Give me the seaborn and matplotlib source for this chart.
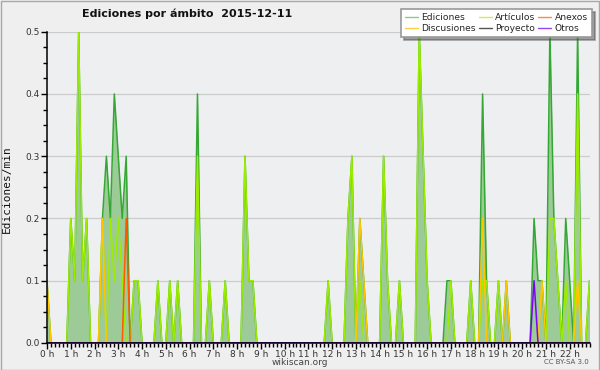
import numpy as np
import pandas as pd
import seaborn as sns
import matplotlib.pyplot as plt
from matplotlib.lines import Line2D
from matplotlib.patches import Rectangle
from matplotlib.ticker import MultipleLocator, FormatStrFormatter

# 10-minute bins from 00:00 to 22:50, values in edits per minute
bin_minutes = list(range(0, 1380, 10))

ediciones = [
    0.1, 0, 0, 0, 0, 0, 0.2, 0.1, 0.5, 0.1, 0.2, 0,
    0, 0, 0.2, 0.3, 0.2, 0.4, 0.3, 0.2, 0.3, 0, 0.1, 0.1,
    0, 0, 0, 0, 0.1, 0, 0, 0.1, 0, 0.1, 0, 0,
    0, 0, 0.4, 0, 0, 0.1, 0, 0, 0, 0.1, 0, 0,
    0, 0, 0.3, 0.1, 0.1, 0, 0, 0, 0, 0, 0, 0,
    0, 0, 0, 0, 0, 0, 0, 0, 0, 0, 0, 0.1,
    0, 0, 0, 0, 0.2, 0.3, 0, 0.2, 0.1, 0, 0, 0,
    0, 0.3, 0.1, 0, 0, 0.1, 0, 0, 0, 0, 0.5, 0.3,
    0.1, 0, 0, 0, 0, 0.1, 0.1, 0, 0, 0, 0, 0.1,
    0, 0, 0.4, 0.1, 0, 0, 0.1, 0, 0.1, 0, 0, 0,
    0, 0, 0, 0.2, 0.1, 0.1, 0, 0.5, 0.2, 0.1, 0, 0.2,
    0.1, 0, 0.5, 0, 0, 0.1,
]
articulos = [
    0, 0, 0, 0, 0, 0, 0.2, 0.1, 0.5, 0.1, 0.2, 0,
    0, 0, 0.2, 0, 0.2, 0.1, 0.2, 0.1, 0, 0, 0.1, 0.1,
    0, 0, 0, 0, 0.1, 0, 0, 0.1, 0, 0.1, 0, 0,
    0, 0, 0.3, 0, 0, 0.1, 0, 0, 0, 0.1, 0, 0,
    0, 0, 0.3, 0.1, 0.1, 0, 0, 0, 0, 0, 0, 0,
    0, 0, 0, 0, 0, 0, 0, 0, 0, 0, 0, 0.1,
    0, 0, 0, 0, 0.2, 0.3, 0, 0.1, 0, 0, 0, 0,
    0, 0.3, 0.1, 0, 0, 0.1, 0, 0, 0, 0, 0.5, 0.3,
    0.1, 0, 0, 0, 0, 0, 0.1, 0, 0, 0, 0, 0.1,
    0, 0, 0.1, 0.1, 0, 0, 0.1, 0, 0, 0, 0, 0,
    0, 0, 0, 0, 0, 0, 0, 0.2, 0.2, 0.1, 0, 0.1,
    0, 0, 0.4, 0, 0, 0.1,
]
discusiones = [
    0.1, 0, 0, 0, 0, 0, 0, 0, 0, 0, 0, 0,
    0, 0, 0.2, 0, 0, 0, 0, 0, 0, 0, 0, 0,
    0, 0, 0, 0, 0, 0, 0, 0, 0, 0, 0, 0,
    0, 0, 0, 0, 0, 0, 0, 0, 0, 0, 0, 0,
    0, 0, 0, 0, 0, 0, 0, 0, 0, 0, 0, 0,
    0, 0, 0, 0, 0, 0, 0, 0, 0, 0, 0, 0,
    0, 0, 0, 0, 0, 0, 0, 0.2, 0.1, 0, 0, 0,
    0, 0, 0, 0, 0, 0, 0, 0, 0, 0, 0, 0,
    0, 0, 0, 0, 0, 0, 0, 0, 0, 0, 0, 0,
    0, 0, 0.2, 0, 0, 0, 0, 0, 0.1, 0, 0, 0,
    0, 0, 0, 0, 0, 0.1, 0, 0, 0, 0, 0, 0,
    0, 0, 0.1, 0, 0, 0,
]
anexos = [
    0, 0, 0, 0, 0, 0, 0, 0, 0, 0, 0, 0,
    0, 0, 0, 0, 0, 0, 0, 0, 0.2, 0, 0, 0,
    0, 0, 0, 0, 0, 0, 0, 0, 0, 0, 0, 0,
    0, 0, 0, 0, 0, 0, 0, 0, 0, 0, 0, 0,
    0, 0, 0, 0, 0, 0, 0, 0, 0, 0, 0, 0,
    0, 0, 0, 0, 0, 0, 0, 0, 0, 0, 0, 0,
    0, 0, 0, 0, 0, 0, 0, 0, 0, 0, 0, 0,
    0, 0, 0, 0, 0, 0, 0, 0, 0, 0, 0, 0,
    0, 0, 0, 0, 0, 0, 0, 0, 0, 0, 0, 0,
    0, 0, 0, 0, 0, 0, 0, 0, 0, 0, 0, 0,
    0, 0, 0, 0, 0, 0, 0, 0, 0, 0, 0, 0,
    0, 0, 0, 0, 0, 0,
]
proyecto = [
    0, 0, 0, 0, 0, 0, 0, 0, 0, 0, 0, 0,
    0, 0, 0, 0, 0, 0, 0, 0, 0, 0, 0, 0,
    0, 0, 0, 0, 0, 0, 0, 0, 0, 0, 0, 0,
    0, 0, 0, 0, 0, 0, 0, 0, 0, 0, 0, 0,
    0, 0, 0, 0, 0, 0, 0, 0, 0, 0, 0, 0,
    0, 0, 0, 0, 0, 0, 0, 0, 0, 0, 0, 0,
    0, 0, 0, 0, 0, 0, 0, 0, 0, 0, 0, 0,
    0, 0, 0, 0, 0, 0, 0, 0, 0, 0, 0, 0,
    0, 0, 0, 0, 0, 0, 0, 0, 0, 0, 0, 0,
    0, 0, 0, 0, 0, 0, 0, 0, 0, 0, 0, 0,
    0, 0, 0, 0, 0, 0, 0, 0, 0, 0, 0, 0,
    0, 0, 0, 0, 0, 0,
]
otros = [
    0, 0, 0, 0, 0, 0, 0, 0, 0, 0, 0, 0,
    0, 0, 0, 0, 0, 0, 0, 0, 0, 0, 0, 0,
    0, 0, 0, 0, 0, 0, 0, 0, 0, 0, 0, 0,
    0, 0, 0, 0, 0, 0, 0, 0, 0, 0, 0, 0,
    0, 0, 0, 0, 0, 0, 0, 0, 0, 0, 0, 0,
    0, 0, 0, 0, 0, 0, 0, 0, 0, 0, 0, 0,
    0, 0, 0, 0, 0, 0, 0, 0, 0, 0, 0, 0,
    0, 0, 0, 0, 0, 0, 0, 0, 0, 0, 0, 0,
    0, 0, 0, 0, 0, 0, 0, 0, 0, 0, 0, 0,
    0, 0, 0, 0, 0, 0, 0, 0, 0, 0, 0, 0,
    0, 0, 0, 0.1, 0, 0, 0, 0, 0, 0, 0, 0,
    0, 0, 0, 0, 0, 0,
]

hour_ticks = list(range(0, 23))
hour_labels = ['{} h'.format(h) for h in hour_ticks]

df = pd.DataFrame({
    'hora': np.array(bin_minutes) / 60.0,
    'Ediciones': ediciones,
    'Artículos': articulos,
    'Discusiones': discusiones,
    'Anexos': anexos,
    'Proyecto': proyecto,
    'Otros': otros,
})

sns.set_style('ticks')
plt.rcParams['font.family'] = ['DejaVu Sans']

bg = '#efeff0'
fig = plt.figure(figsize=(6, 3.7), dpi=100, facecolor=bg)
ax = fig.add_axes([47 / 600, 1 - 343 / 370, (589.5 - 47) / 600, (343 - 31.7) / 370])
ax.set_facecolor('#eeeff1')

# filled total + series lines
ax.fill_between(df['hora'], 0, df['Ediciones'], color='#9dcb98', lw=0, zorder=1)
sns.lineplot(data=df, x='hora', y='Ediciones', color='#33a833', lw=1.1, ax=ax, zorder=2)
line_colors = {'Artículos': '#9cec00', 'Discusiones': '#ffc600',
               'Anexos': '#ff5a00', 'Proyecto': '#444444', 'Otros': '#8000ff'}
for name, c in line_colors.items():
    sns.lineplot(data=df, x='hora', y=name, color=c, lw=1.1, ax=ax, zorder=2)

ax.set_xlim(0, bin_minutes[-1] / 60.0)
ax.set_ylim(0, 0.5)

ax.set_xticks(hour_ticks, hour_labels)
ax.xaxis.set_minor_locator(MultipleLocator(1 / 6))
ax.yaxis.set_major_locator(MultipleLocator(0.1))
ax.yaxis.set_minor_locator(MultipleLocator(0.025))
ax.yaxis.set_major_formatter(FormatStrFormatter('%.1f'))
ax.tick_params(axis='both', which='major', labelsize=6.5, labelcolor='#333333',
               length=4, width=1, color='black', pad=1)
ax.tick_params(axis='both', which='minor', length=3, width=1, color='black')
ax.set_xlabel('')
ax.set_ylabel('')

ax.yaxis.grid(True, color='#cccccc', lw=0.9)
ax.set_axisbelow(True)
for s in ['top', 'right']:
    ax.spines[s].set_visible(False)
for s in ['left', 'bottom']:
    ax.spines[s].set_color('black')
    ax.spines[s].set_linewidth(1.1)
    ax.spines[s].set_zorder(3)

# texts
fig.text(187.5 / 600, 1 - 14 / 370, 'Ediciones por ámbito  2015-12-11',
         ha='center', va='center', fontsize=8, fontweight='bold', color='#111111')
fig.text(7 / 600, 1 - 189 / 370, 'Ediciones/min', rotation=90, ha='center', va='center',
         fontsize=8, family='DejaVu Sans Mono', color='#111111')
fig.text(0.5, 1 - 362.5 / 370, 'wikiscan.org', ha='center', va='center',
         fontsize=6.5, color='#444444')
fig.text(589 / 600, 1 - 362.5 / 370, 'CC BY-SA 3.0', ha='right', va='center',
         fontsize=5, color='#555555')

# legend
legend_colors = [('Ediciones', '#88cc88'), ('Discusiones', '#ffcc44'),
                 ('Artículos', '#ccee55'), ('Proyecto', '#555555'),
                 ('Anexos', '#ff8844'), ('Otros', '#9944ee')]
handles = [Line2D([0], [0], color=c, lw=1) for _, c in legend_colors]
labels = [n for n, _ in legend_colors]
leg = fig.legend(handles, labels, loc='upper right', bbox_to_anchor=(592 / 600, 1 - 9 / 370),
                 ncol=3, fontsize=6.6, frameon=True, fancybox=False, shadow=True,
                 framealpha=1, edgecolor='#999999', handlelength=1.4, handletextpad=0.4,
                 columnspacing=0.3, labelspacing=0.2, borderpad=0.45, borderaxespad=0)
leg.get_frame().set_linewidth(1.2)

# outer border
fig.patches.append(Rectangle((0.5 / 600, 0.5 / 370), 598.5 / 600, 368.5 / 370,
                             transform=fig.transFigure, fill=False,
                             edgecolor='#a8a8a8', lw=1))

fig.savefig('out.png', dpi=100, facecolor=bg)
